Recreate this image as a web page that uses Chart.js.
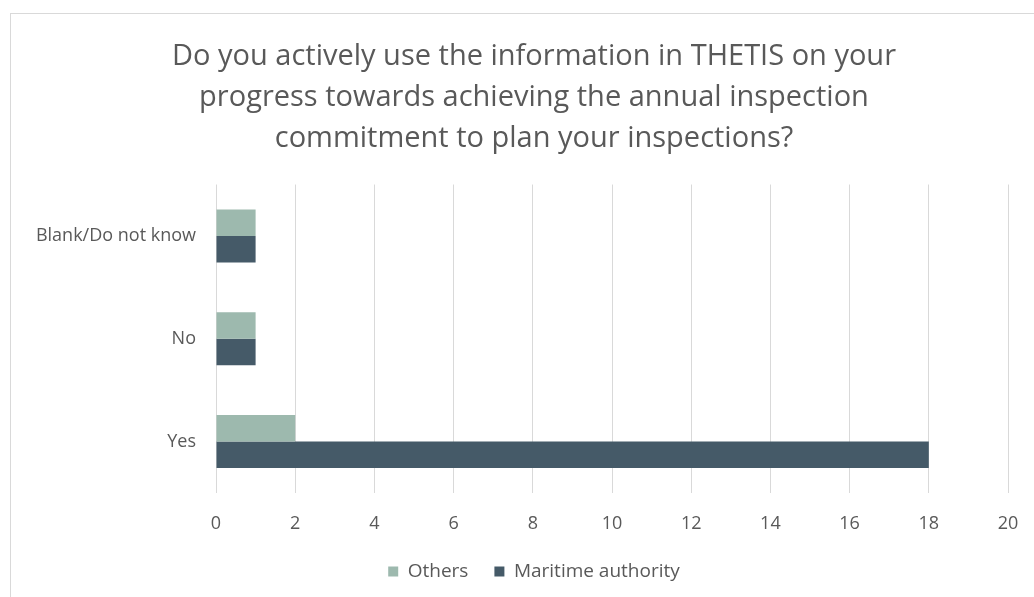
<!DOCTYPE html>
<html lang="en">
<head>
    <meta charset="UTF-8">
    <title>THETIS survey chart</title>
    <script src="https://cdn.jsdelivr.net/npm/chart.js@4.4.0/dist/chart.umd.min.js"></script>
    <style>
        html, body { margin: 0; padding: 0; background: #fff; overflow: hidden; }
        #box {
            position: absolute; left: 10px; top: 13px;
            width: 1040px; height: 600px;
            border: 1px solid #d9d9d9; box-sizing: border-box;
        }
    </style>
</head>
<body>

    <div id="box"><canvas id="chart"></canvas></div>

    <script>
        // values
        const categories = ['Blank/Do not know', 'No', 'Yes'];
        const others = [1, 1, 2];
        const maritime = [1, 1, 18];
        const xTicks = [0, 2, 4, 6, 8, 10, 12, 14, 16, 18, 20];

        const grey = '#595959';
        const fontName = '"Open Sans", Lato, sans-serif';

        const ctx = document.getElementById('chart').getContext('2d');
        const myChart = new Chart(ctx, {
            type: 'bar',
            data: {
                labels: categories,
                datasets: [{
                    label: 'Others',
                    data: others,
                    backgroundColor: '#9db9ae'
                }, {
                    label: 'Maritime authority',
                    data: maritime,
                    backgroundColor: '#455a68'
                }]
            },
            options: {
                indexAxis: 'y',
                responsive: true,
                maintainAspectRatio: false,
                animation: false,
                datasets: {
                    bar: { categoryPercentage: 0.515, barPercentage: 1.0, borderWidth: 0 }
                },
                // left padding keeps title + legend centred like the original
                layout: { padding: { left: 49, right: 41, top: 0, bottom: 21 } },
                plugins: {
                    title: {
                        display: true,
                        text: ['Do you actively use the information in THETIS on your',
                               'progress towards achieving the annual inspection',
                               'commitment to plan your inspections?'],
                        color: grey,
                        font: { family: fontName, size: 29, weight: 'normal', lineHeight: 1.42 },
                        padding: { top: 22, bottom: 25 }
                    },
                    legend: {
                        position: 'bottom',
                        labels: {
                            color: grey,
                            boxWidth: 10, boxHeight: 10,
                            padding: 26,
                            font: { family: fontName, size: 19 }
                        }
                    },
                    tooltip: { enabled: false }
                },
                scales: {
                    x: {
                        min: 0, max: 20,
                        afterBuildTicks: (scale) => { scale.ticks = xTicks.map(v => ({ value: v })); },
                        afterFit: (scale) => { scale.height = 43; },
                        grid: { color: '#d9d9d9', drawTicks: false },
                        border: { display: false },
                        ticks: { color: grey, padding: 20, font: { family: fontName, size: 18 } }
                    },
                    y: {
                        afterFit: (scale) => {
                            scale.width = 156;
                            // long label runs into the left padding, so don't clip it
                            scale._computeLabelArea = () => undefined;
                        },
                        grid: { display: false, drawTicks: false },
                        border: { display: false },
                        ticks: { color: grey, padding: 20, font: { family: fontName, size: 18 } }
                    }
                }
            }
        });
    </script>
</body>
</html>
